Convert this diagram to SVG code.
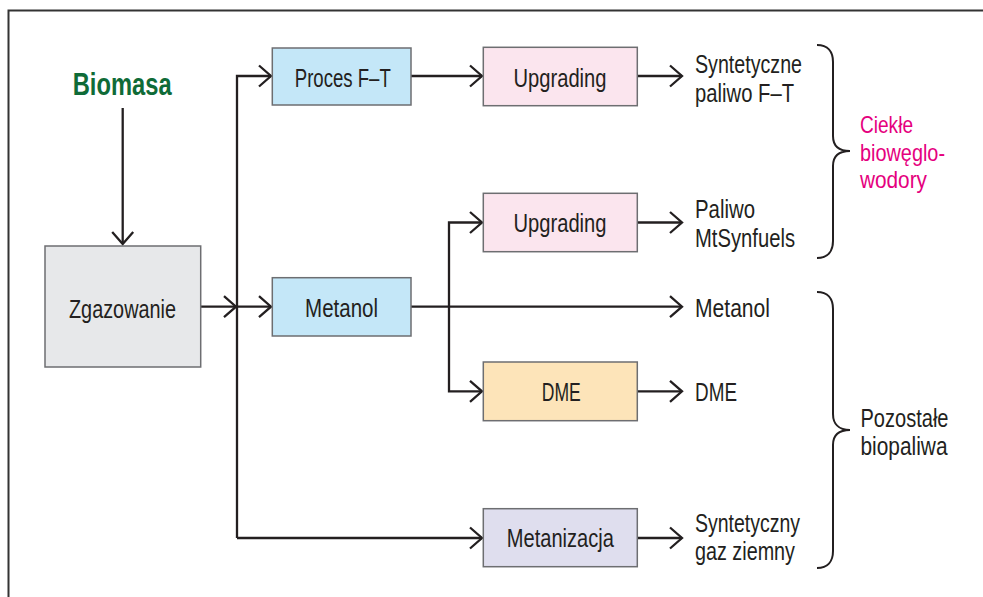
<svg xmlns="http://www.w3.org/2000/svg" width="983" height="597" viewBox="0 0 983 597">
<defs>
<style>
.bx{stroke:#6d6e71;stroke-width:1.5}
.t{font-family:"Liberation Sans Narrow","Liberation Sans",Arial,sans-serif;font-size:26px;fill:#231f20}
.m{font-size:24px;fill:#e5007e}
.c{text-anchor:middle}
.ln{fill:none;stroke:#231f20;stroke-width:2.3}
.br{fill:none;stroke:#231f20;stroke-width:2}
</style>
<marker id="ah" markerUnits="userSpaceOnUse" markerWidth="18" markerHeight="28" viewBox="-15 -14 18 28" refX="0" refY="0" orient="auto">
<path d="M-12,-10.5 L0,0 L-12,10.5" fill="none" stroke="#231f20" stroke-width="2.3"/>
</marker>
</defs>
<rect width="983" height="597" fill="#fff"/>
<path d="M8.5,597 V10.5 H983" fill="none" stroke="#333" stroke-width="2"/>

<g id="connectors">
<path class="ln" d="M122.7,108 V244" marker-end="url(#ah)"/>
<path class="ln" d="M201,306.7 H236" marker-end="url(#ah)"/>
<path class="ln" d="M237,538 V76 H271" marker-end="url(#ah)"/>
<path class="ln" d="M237,306.7 H271" marker-end="url(#ah)"/>
<path class="ln" d="M237,538 H482" marker-end="url(#ah)"/>
<path class="ln" d="M411,76 H482" marker-end="url(#ah)"/>
<path class="ln" d="M637,76 H682" marker-end="url(#ah)"/>
<path class="ln" d="M411,306.7 H682" marker-end="url(#ah)"/>
<path class="ln" d="M449,306.7 V222.5 H482" marker-end="url(#ah)"/>
<path class="ln" d="M449,306.7 V391.3 H482" marker-end="url(#ah)"/>
<path class="ln" d="M637,222.5 H682" marker-end="url(#ah)"/>
<path class="ln" d="M637,391.3 H682" marker-end="url(#ah)"/>
<path class="ln" d="M637,538 H682" marker-end="url(#ah)"/>
</g>

<g id="biomasa">
<text x="122.2" y="95" text-anchor="middle" font-family="'Liberation Sans Narrow','Liberation Sans',Arial,sans-serif" font-weight="bold" font-size="31" fill="#0f6b37" textLength="99" lengthAdjust="spacingAndGlyphs">Biomasa</text>
</g>

<g id="zgazowanie">
<rect class="bx" x="45" y="246" width="155.7" height="121" fill="#e7e8ea"/>
<text class="t c" x="122.5" y="317.5" textLength="107" lengthAdjust="spacingAndGlyphs">Zgazowanie</text>
</g>

<g id="proces-ft">
<rect class="bx" x="272.3" y="48" width="138.7" height="57" fill="#c4e7f8"/>
<text class="t c" x="342.8" y="86.5" textLength="96" lengthAdjust="spacingAndGlyphs">Proces F–T</text>
</g>

<g id="metanol-box">
<rect class="bx" x="272.3" y="277.7" width="138.7" height="58.3" fill="#c4e7f8"/>
<text class="t c" x="341.6" y="316.8" textLength="73" lengthAdjust="spacingAndGlyphs">Metanol</text>
</g>

<g id="upgrading1">
<rect class="bx" x="483.3" y="47.3" width="154" height="58.4" fill="#fbe5ee"/>
<text class="t c" x="560" y="86.5" textLength="93" lengthAdjust="spacingAndGlyphs">Upgrading</text>
</g>

<g id="upgrading2">
<rect class="bx" x="483.3" y="193.3" width="154" height="58.4" fill="#fbe5ee"/>
<text class="t c" x="560" y="232" textLength="93" lengthAdjust="spacingAndGlyphs">Upgrading</text>
</g>

<g id="dme-box">
<rect class="bx" x="483.3" y="362" width="154" height="58.7" fill="#fde4b9"/>
<text class="t c" x="561.3" y="400.8" textLength="39" lengthAdjust="spacingAndGlyphs">DME</text>
</g>

<g id="metanizacja">
<rect class="bx" x="483.3" y="508.7" width="154" height="58" fill="#dfdeee"/>
<text class="t c" x="560.3" y="547" textLength="107" lengthAdjust="spacingAndGlyphs">Metanizacja</text>
</g>

<g id="out-ft">
<text class="t" x="695" y="73.3" textLength="107" lengthAdjust="spacingAndGlyphs">Syntetyczne</text>
<text class="t" x="695" y="101.5" textLength="99" lengthAdjust="spacingAndGlyphs">paliwo F–T</text>
</g>

<g id="out-mtsynfuels">
<text class="t" x="695" y="218.3" textLength="60" lengthAdjust="spacingAndGlyphs">Paliwo</text>
<text class="t" x="695" y="246.5" textLength="100" lengthAdjust="spacingAndGlyphs">MtSynfuels</text>
</g>

<g id="out-metanol">
<text class="t" x="695" y="316.8" textLength="75" lengthAdjust="spacingAndGlyphs">Metanol</text>
</g>

<g id="out-dme">
<text class="t" x="695" y="401" textLength="42" lengthAdjust="spacingAndGlyphs">DME</text>
</g>

<g id="out-sng">
<text class="t" x="695" y="531.7" textLength="105" lengthAdjust="spacingAndGlyphs">Syntetyczny</text>
<text class="t" x="695" y="560" textLength="100" lengthAdjust="spacingAndGlyphs">gaz ziemny</text>
</g>

<g id="group-ciekle">
<path class="br" d="M817,45 C828,45 833,52 833,62 V136 C833,145 838,151 850,151 C838,151 833,157 833,166 V241 C833,251 828,258 817,258"/>
<text class="t m" x="860" y="133" textLength="53" lengthAdjust="spacingAndGlyphs">Ciekłe</text>
<text class="t m" x="860" y="160.5" textLength="85" lengthAdjust="spacingAndGlyphs">biowęglo-</text>
<text class="t m" x="860" y="188" textLength="67" lengthAdjust="spacingAndGlyphs">wodory</text>
</g>

<g id="group-pozostale">
<path class="br" d="M817,292 C828,292 833,299 833,309 V414 C833,423 838,430 850,430 C838,430 833,436 833,445 V551 C833,561 828,568 817,568"/>
<text class="t" x="860.5" y="427" textLength="88" lengthAdjust="spacingAndGlyphs">Pozostałe</text>
<text class="t" x="860.5" y="455" textLength="87" lengthAdjust="spacingAndGlyphs">biopaliwa</text>
</g>
</svg>
